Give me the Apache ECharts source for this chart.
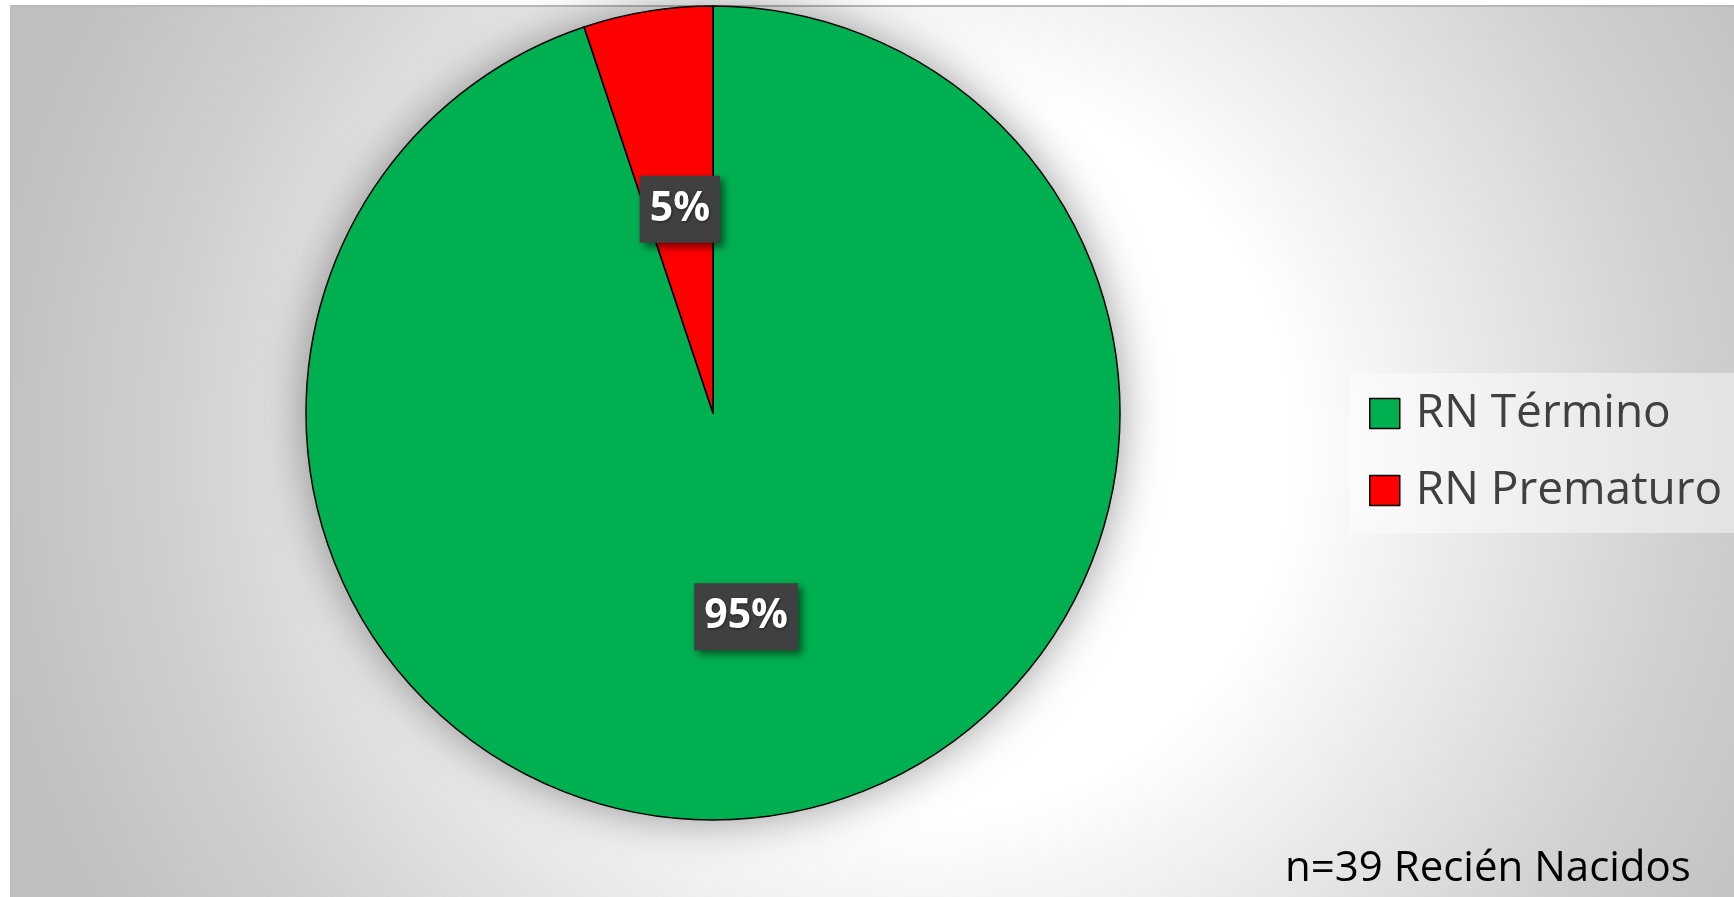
<!DOCTYPE html>
<html>
<head>
<meta charset="utf-8">
<title>RN Término / Prematuro</title>
<script src="https://cdn.jsdelivr.net/npm/echarts@6/dist/echarts.min.js"></script>
<style>
  html, body { margin: 0; padding: 0; background: #fff; }
  #chart { width: 1734px; height: 897px; }
</style>
</head>
<body>
<div id="chart"></div>
<script>
const categories = ['RN Término', 'RN Prematuro'];
const counts = [37, 2];
const sliceColors = ['#00b050', '#ff0000'];
const noteText = 'n=39 Recién Nacidos';

const chart = echarts.init(document.getElementById('chart'));
const total = counts.reduce((a, b) => a + b, 0);

const option = {
  backgroundColor: '#fff',
  animation: false,
  graphic: [
    {
      type: 'rect',
      z: -10,
      shape: { x: 10, y: 5, width: 1724, height: 892 },
      style: {
        fill: new echarts.graphic.RadialGradient(930, 451, 950, [
          { offset: 0, color: '#ffffff' },
          { offset: 0.38, color: '#ffffff' },
          { offset: 0.8, color: '#d0d0d0' },
          { offset: 1, color: '#c0c0c0' }
        ], true)
      },
      silent: true
    },
    {
      type: 'line',
      z: -9,
      shape: { x1: 10, y1: 6, x2: 1734, y2: 6 },
      style: { stroke: '#b8b8b8', lineWidth: 2 },
      silent: true
    },
    {
      type: 'line',
      z: -9,
      shape: { x1: 11, y1: 5, x2: 11, y2: 897 },
      style: { stroke: '#bdbdbd', lineWidth: 2 },
      silent: true
    },
    {
      type: 'rect',
      z: -5,
      shape: { x: 1350, y: 373, width: 384, height: 160 },
      style: { fill: 'rgba(255,255,255,0.45)' },
      silent: true
    },
    {
      type: 'text',
      left: 1285,
      top: 848,
      style: {
        text: noteText,
        font: '42px "Open Sans"',
        fill: '#000'
      }
    }
  ],
  legend: {
    data: categories,
    orient: 'vertical',
    left: 1369,
    top: 390,
    padding: 0,
    itemWidth: 30,
    itemHeight: 30,
    itemGap: 30,
    icon: 'rect',
    itemStyle: { borderColor: '#000', borderWidth: 1.5, shadowBlur: 0 },
    textStyle: {
      fontFamily: 'Open Sans',
      fontSize: 46,
      lineHeight: 47,
      color: '#404040',
      padding: [0, 0, 0, 11]
    }
  },
  series: [
    {
      // sombra del pastel
      type: 'pie',
      silent: true,
      center: [713, 413],
      radius: 407,
      label: { show: false },
      labelLine: { show: false },
      itemStyle: {
        color: '#ffffff',
        shadowBlur: 45,
        shadowColor: 'rgba(0,0,0,0.4)'
      },
      data: [{ value: total, name: '' }],
      z: 1
    },
    {
      type: 'pie',
      center: [713, 413],
      radius: 407,
      startAngle: 90,
      clockwise: true,
      percentPrecision: 0,
      z: 2,
      itemStyle: { borderColor: '#000', borderWidth: 1.5 },
      label: {
        show: true,
        position: 'inside',
        formatter: '{d}%',
        fontFamily: 'Open Sans',
        fontWeight: 'bold',
        fontSize: 41,
        lineHeight: 44,
        color: '#fff',
        backgroundColor: '#404040',
        padding: [12, 10, 11, 10],
        shadowColor: 'rgba(0,0,0,0.55)',
        shadowBlur: 8,
        shadowOffsetX: 4,
        shadowOffsetY: 4,
        textShadowColor: 'rgba(0,0,0,0.5)',
        textShadowBlur: 3,
        textShadowOffsetX: 1,
        textShadowOffsetY: 1
      },
      labelLine: { show: false },
      emphasis: { disabled: true },
      data: categories.map((c, i) => ({
        name: c,
        value: counts[i],
        itemStyle: { color: sliceColors[i] }
      }))
    }
  ]
};

chart.setOption(option);
</script>
</body>
</html>
